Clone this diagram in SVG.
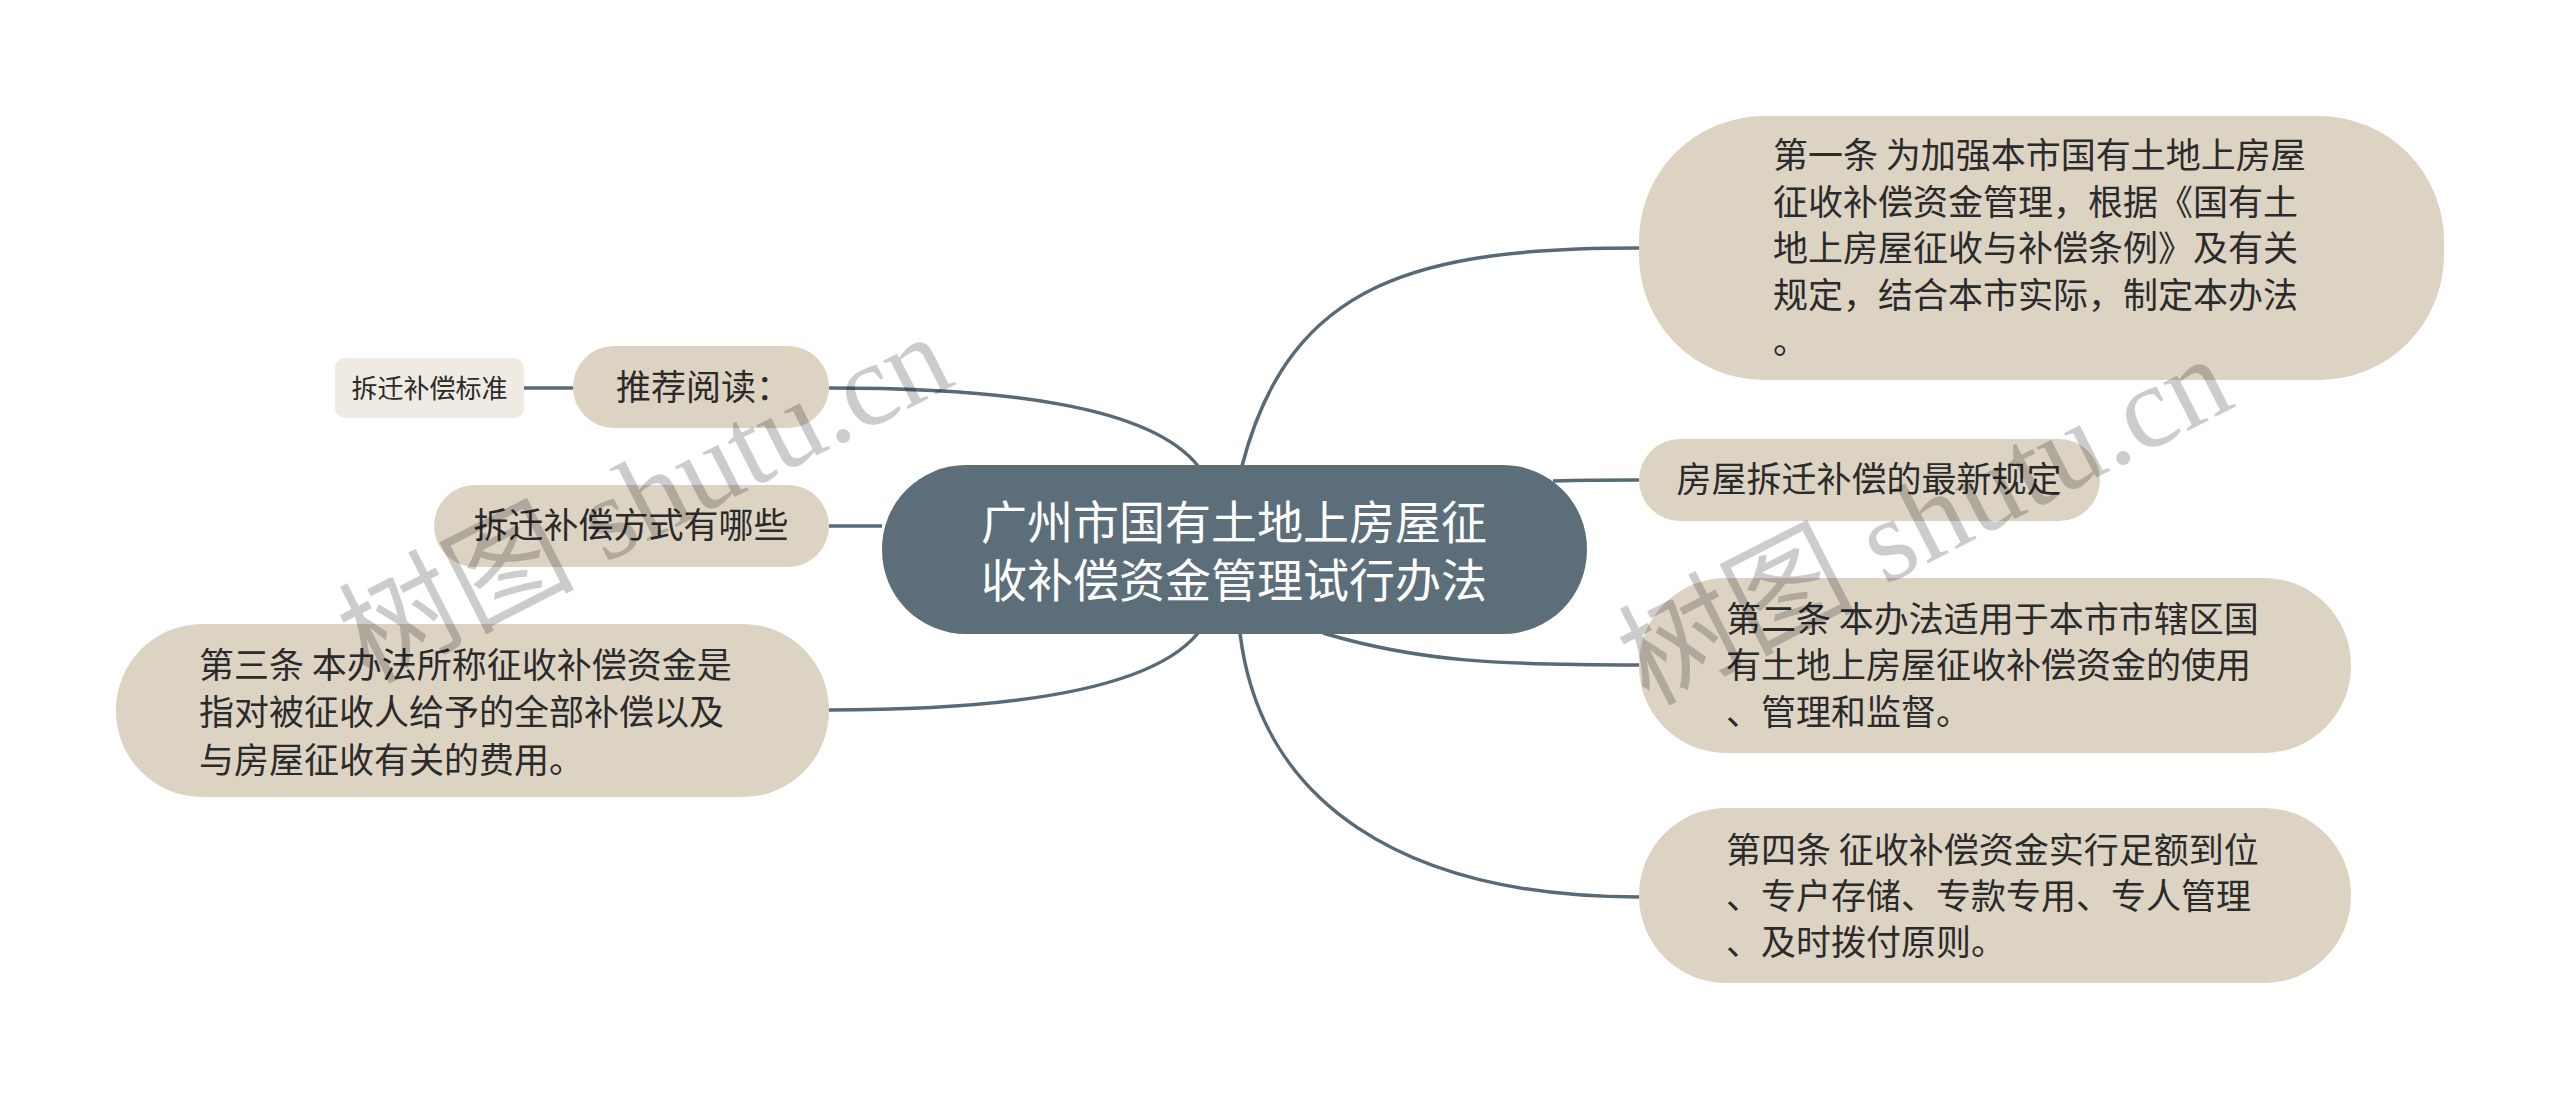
<svg xmlns="http://www.w3.org/2000/svg" width="2560" height="1099" viewBox="0 0 2560 1099">
<style>
.bg{fill:#ffffff}
.node{fill:#ddd3c3}
.leaf{fill:#efebe3}
.root{fill:#5c6e7a}
.t{font-family:"Noto Sans CJK SC","Noto Sans",sans-serif;font-size:35px;fill:#2b2b2b}
.ts{font-family:"Noto Sans CJK SC","Noto Sans",sans-serif;font-size:26px;fill:#2b2b2b}
.tr{font-family:"Noto Sans CJK SC","Noto Sans",sans-serif;font-size:46px;fill:#ffffff}
.c{fill:none;stroke:#586a76;stroke-width:3.5}
.wm{font-family:"Liberation Serif","Noto Sans CJK SC",serif;font-size:118px;fill:#000000;fill-opacity:0.2}
</style>
<rect class="bg" x="0" y="0" width="2560" height="1099"/>
<g id="connectors">
<path class="c" d="M1242,466 C1290,280 1420,248 1639,248"/>
<path class="c" d="M1553,481 C1590,480 1605,480 1639,480"/>
<path class="c" d="M1323,633 C1420,662 1500,665 1639,665"/>
<path class="c" d="M1240,633 C1260,800 1400,897 1639,897"/>
<path class="c" d="M829,388 C1000,388 1150,405 1198,466"/>
<path class="c" d="M829,526 L882,526"/>
<path class="c" d="M829,710 C1000,710 1150,692 1198,633"/>
<path class="c" d="M524,388 L573,388"/>
</g>
<g id="root">
<rect class="root" x="882" y="465" width="705" height="169" rx="84"/>
<text class="tr" x="1234" y="539" text-anchor="middle">广州市国有土地上房屋征</text>
<text class="tr" x="1234" y="597" text-anchor="middle">收补偿资金管理试行办法</text>
</g>
<g id="n1">
<rect class="node" x="1639" y="116" width="805" height="264" rx="125"/>
<text class="t" x="1773" y="168">第一条 为加强本市国有土地上房屋</text>
<text class="t" x="1773" y="214.5">征收补偿资金管理，根据《国有土</text>
<text class="t" x="1773" y="261">地上房屋征收与补偿条例》及有关</text>
<text class="t" x="1773" y="307.5">规定，结合本市实际，制定本办法</text>
<text class="t" x="1773" y="354">。</text>
</g>
<g id="n2">
<rect class="node" x="1639" y="439" width="461" height="82" rx="41"/>
<text class="t" x="1869" y="492" text-anchor="middle">房屋拆迁补偿的最新规定</text>
</g>
<g id="n3">
<rect class="node" x="1639" y="578" width="712" height="175" rx="87"/>
<text class="t" x="1726" y="632">第二条 本办法适用于本市市辖区国</text>
<text class="t" x="1726" y="678">有土地上房屋征收补偿资金的使用</text>
<text class="t" x="1726" y="725">、管理和监督。</text>
</g>
<g id="n4">
<rect class="node" x="1639" y="808" width="712" height="175" rx="87"/>
<text class="t" x="1726" y="863">第四条 征收补偿资金实行足额到位</text>
<text class="t" x="1726" y="909">、专户存储、专款专用、专人管理</text>
<text class="t" x="1726" y="955">、及时拨付原则。</text>
</g>
<g id="n5">
<rect class="node" x="573" y="346" width="256" height="82" rx="41"/>
<text class="t" x="616" y="400">推荐阅读：</text>
</g>
<g id="n6">
<rect class="leaf" x="335" y="358" width="189" height="60" rx="10"/>
<text class="ts" x="429.5" y="398" text-anchor="middle">拆迁补偿标准</text>
</g>
<g id="n7">
<rect class="node" x="434" y="485" width="395" height="82" rx="41"/>
<text class="t" x="631" y="538" text-anchor="middle">拆迁补偿方式有哪些</text>
</g>
<g id="n8">
<rect class="node" x="116" y="624" width="713" height="173" rx="86"/>
<text class="t" x="199" y="678">第三条 本办法所称征收补偿资金是</text>
<text class="t" x="199" y="725">指对被征收人给予的全部补偿以及</text>
<text class="t" x="199" y="773">与房屋征收有关的费用。</text>
</g>
<g id="watermarks">
<text class="wm" x="368" y="684" transform="rotate(-27 368 684)">树图 shutu.cn</text>
<text class="wm" x="1648" y="706" transform="rotate(-27 1648 706)">树图 shutu.cn</text>
</g>
</svg>
